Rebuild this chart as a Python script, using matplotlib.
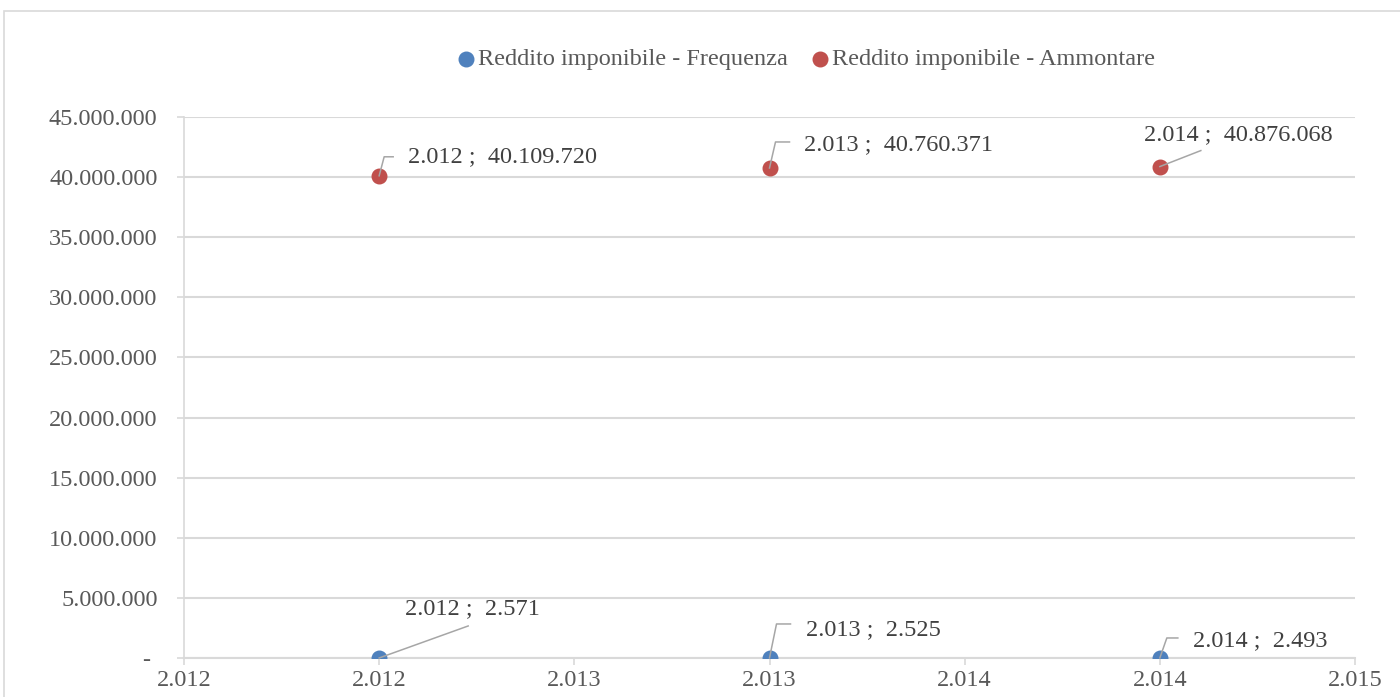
import numpy as np
import matplotlib.pyplot as plt
from matplotlib.lines import Line2D
from matplotlib.patches import Rectangle
from matplotlib.transforms import IdentityTransform
from matplotlib.ticker import FuncFormatter, MultipleLocator

years = [2012, 2013, 2014]
frequenza = [2571, 2525, 2493]
ammontare = [40109720, 40760371, 40876068]
labels = ["Reddito imponibile - Frequenza", "Reddito imponibile - Ammontare"]

# label layout (pixel offsets from the point): leader path, text position, alignment
freq_layout = [
    ([(0, 0), (89, 32)], (26, 49), 'left'),
    ([(0, 0), (7, 34), (21, 34)], (36, 28), 'left'),
    ([(0, 0), (7, 20), (18, 20)], (33, 17), 'left'),
]
amm_layout = [
    ([(0, 0), (5, 19), (14, 19)], (29, 19), 'left'),
    ([(0, 0), (6, 26), (20, 26)], (34, 23), 'left'),
    ([(0, 0), (41, 16)], (-16, 32), 'left'),
]

blue = '#4F81BD'
red = '#C0504D'
grid_c = '#D9D9D9'
text_c = '#595959'


def dots(v):
    return f"{int(v):,}".replace(",", ".")


def xfmt(x, pos):
    return dots(np.floor(x + 0.5))


def yfmt(y, pos):
    if abs(y) < 1:
        return "- "
    return dots(y)


plt.rcParams['font.family'] = ['Liberation Serif', 'DejaVu Serif']

fig = plt.figure(figsize=(14, 6.97), dpi=100)
fig.add_artist(Rectangle((4 / 1400, -0.05), 1.1, 1 - 11 / 697 + 0.05,
                         transform=fig.transFigure, fill=False,
                         edgecolor=grid_c, lw=1.2))
ax = fig.add_axes([184 / 1400, 1 - 658 / 697, (1355 - 184) / 1400, (658 - 117) / 697])

ax.set_xlim(2011.5, 2014.5)
ax.set_ylim(0, 45000000)
ax.xaxis.set_major_locator(MultipleLocator(0.5))
ax.yaxis.set_major_locator(MultipleLocator(5000000))
ax.xaxis.set_major_formatter(FuncFormatter(xfmt))
ax.yaxis.set_major_formatter(FuncFormatter(yfmt))

ax.grid(axis='y', color=grid_c, lw=1.5)
ax.set_axisbelow(True)
for s in ['top', 'right']:
    ax.spines[s].set_visible(False)
ax.spines['left'].set_color(grid_c)
ax.spines['bottom'].set_color(grid_c)
ax.spines['left'].set_linewidth(1.2)
ax.spines['bottom'].set_linewidth(1.5)
ax.tick_params(axis='both', colors=grid_c, labelcolor=text_c, labelsize=17.5,
               length=5, width=1.2)
ax.tick_params(axis='y', pad=14)
ax.tick_params(axis='x', pad=4)

ax.scatter(years, frequenza, s=110, color=blue, zorder=3, label=labels[0])
ax.scatter(years, ammontare, s=110, color=red, zorder=3, label=labels[1])

fig.legend(loc='center', bbox_to_anchor=(0.5703, 1 - 59 / 697), ncol=2,
           frameon=False, fontsize=17.5, labelcolor=text_c, handletextpad=-0.5,
           columnspacing=0.32, markerscale=1.0)


def label_points(ys, layout):
    for x, y, (path, (tx, ty), ha) in zip(years, ys, layout):
        px, py = ax.transData.transform((x, y))
        xs = [px + dx for dx, dy in path]
        yy = [py + dy for dx, dy in path]
        fig.add_artist(Line2D(xs, yy, transform=IdentityTransform(),
                              color='#A6A6A6', lw=1.1, zorder=2))
        ax.annotate(f"{dots(x)} ;  {dots(y)}", (x, y), xytext=(tx, ty),
                    textcoords='offset pixels', ha=ha, va='center',
                    fontsize=17.5, color='#404040')


label_points(frequenza, freq_layout)
label_points(ammontare, amm_layout)

fig.savefig("out.png", dpi=100)
